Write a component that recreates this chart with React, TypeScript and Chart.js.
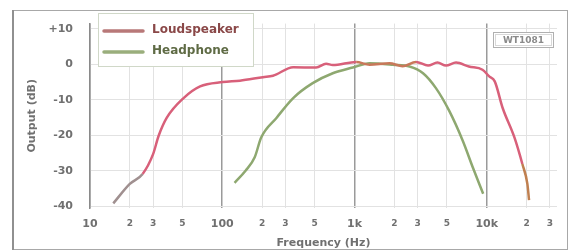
import React, { useEffect, useRef } from "react";
import { Chart, registerables } from "chart.js";

Chart.register(...registerables);

const speakerFreq = [15, 20, 25, 30, 33, 38, 51, 68, 101, 136, 203, 242, 344, 513, 610, 685, 1030, 1300, 1840, 2310, 2920, 3600, 4240, 4920, 5860, 7330, 9290, 10440, 11500, 13200, 16200, 18600, 20300, 20900];
const speakerDb = [-39.2, -33.7, -30.9, -25.3, -20.2, -15.1, -9.5, -6.2, -5.0, -4.6, -3.6, -3.2, -0.8, -0.9, 0.2, -0.2, 0.7, -0.1, 0.3, -0.5, 0.7, -0.3, 0.5, -0.3, 0.5, -0.6, -1.5, -3.4, -4.8, -12.3, -20.6, -28.1, -33.7, -38.3];

const phoneFreq = [124, 150, 176, 197, 257, 344, 483, 685, 972, 1300, 1950, 2610, 3300, 4130, 5220, 6600, 7840, 9400];
const phoneDb = [-33.4, -30.0, -26.2, -20.6, -15.1, -9.5, -5.3, -2.5, -0.9, 0.3, -0.1, -0.6, -2.5, -6.7, -13.2, -21.6, -29.0, -36.5];

const xTickValues = [10, 20, 30, 50, 100, 200, 300, 500, 1000, 2000, 3000, 5000, 10000, 20000, 30000];
const xTickLabels = ["10", "2", "3", "5", "100", "2", "3", "5", "1k", "2", "3", "5", "10k", "2", "3"];
const yTickValues = [-40, -30, -20, -10, 0, 10];
const yTickLabels = ["-40", "-30", "-20", "-10", "0", "+10"];

const seriesNames = ["Loudspeaker", "Headphone"];
const FONT = "'DejaVu Sans', sans-serif";

const framePlugin = {
  id: "frame",
  beforeDraw(chart: any) {
    const c = chart.ctx;
    c.save();
    c.fillStyle = "#ffffff";
    c.fillRect(0, 0, chart.width, chart.height);
    c.strokeStyle = "#a8a8a8";
    c.lineWidth = 1;
    c.strokeRect(12.5, 10.5, 555, 239);
    c.strokeStyle = "#909090";
    c.lineWidth = 2;
    c.beginPath();
    c.moveTo(13, 10);
    c.lineTo(13, 250);
    c.stroke();
    c.restore();
  },
  afterDraw(chart: any) {
    const c = chart.ctx;
    c.save();
    c.fillStyle = "#ffffff";
    c.fillRect(98, 13, 155, 53);
    c.strokeStyle = "#d0d8c8";
    c.lineWidth = 1;
    c.strokeRect(98.5, 13.5, 155, 53);
    const legendColors = ["#b87878", "#9aae7c"];
    const textColors = ["#8a4848", "#5f6b45"];
    const ys = [30, 51];
    chart.data.datasets.forEach((ds: any, i: number) => {
      c.strokeStyle = legendColors[i];
      c.lineWidth = 3.5;
      c.lineCap = "round";
      c.beginPath();
      c.moveTo(104, ys[i] + 1);
      c.lineTo(143, ys[i] + 1);
      c.stroke();
      c.fillStyle = textColors[i];
      c.font = "bold 12px " + FONT;
      c.textBaseline = "middle";
      c.textAlign = "left";
      c.fillText(ds.label, 152, ys[i]);
    });
    c.fillStyle = "#ffffff";
    c.fillRect(493, 32, 61, 16);
    c.strokeStyle = "#b0b0b0";
    c.lineWidth = 1;
    c.strokeRect(493.5, 32.5, 60, 15);
    c.strokeStyle = "#d8d8d8";
    c.strokeRect(495.5, 34.5, 56, 11);
    c.fillStyle = "#8a8a8a";
    c.font = "bold 9px " + FONT;
    c.textAlign = "center";
    c.textBaseline = "middle";
    c.fillText("WT1081", 523.5, 40.5);
    c.restore();
  },
};

export default function App() {
  const ref = useRef<HTMLCanvasElement | null>(null);
  useEffect(() => {
    if (!ref.current) return;
    const chart = new Chart(ref.current, {
      type: "line",
      data: {
        datasets: [
          {
            label: seriesNames[0],
            data: speakerFreq.map((f, i) => ({ x: f, y: speakerDb[i] })),
            borderColor: "#d8607a",
            borderWidth: 2.5,
            pointRadius: 0,
            cubicInterpolationMode: "monotone",
            segment: {
              borderColor: (ctx: any) => {
                const x = ctx.p0.parsed.x;
                if (x >= 18000) return "#c08050";
                if (x >= 1000 && x < 2600) return "#c8785a";
                if (x < 22) return "#a09090";
                return "#d8607a";
              },
            },
          },
          {
            label: seriesNames[1],
            data: phoneFreq.map((f, i) => ({ x: f, y: phoneDb[i] })),
            borderColor: "#8ea870",
            borderWidth: 2.5,
            pointRadius: 0,
            cubicInterpolationMode: "monotone",
          },
        ],
      },
      options: {
        animation: false,
        responsive: false,
        layout: { padding: { left: 0, top: 22, right: 13, bottom: 0 } },
        plugins: { legend: { display: false }, tooltip: { enabled: false } },
        scales: {
          x: {
            type: "logarithmic",
            min: 10,
            max: 34000,
            afterFit: (s: any) => {
              s.height = 43;
            },
            afterBuildTicks: (s: any) => {
              s.ticks = xTickValues.map((v) => ({ value: v }));
            },
            ticks: {
              autoSkip: false,
              maxRotation: 0,
              padding: 10,
              color: "#707070",
              font: (ctx: any) => {
                const lbl = xTickLabels[ctx.index] || "";
                return lbl.length > 1 ? { family: FONT, size: 11, weight: "bold" } : { family: FONT, size: 9, weight: "bold" };
              },
              callback: (_v: any, i: number) => xTickLabels[i],
            },
            grid: {
              drawTicks: false,
              color: (ctx: any) => {
                const v = ctx.tick && ctx.tick.value;
                return [10, 100, 1000, 10000].includes(v) ? "#9a9a9a" : "#e2e2e2";
              },
              lineWidth: (ctx: any) => {
                const v = ctx.tick && ctx.tick.value;
                return [10, 100, 1000, 10000].includes(v) ? 1.5 : 1;
              },
            },
            border: { display: false },
            title: {
              display: true,
              text: "Frequency (Hz)",
              color: "#707070",
              font: { family: FONT, size: 11, weight: "bold" },
              padding: { top: 0, bottom: 1 },
            },
          },
          y: {
            type: "linear",
            min: -40.5,
            max: 11.5,
            afterFit: (s: any) => {
              s.width = 90;
            },
            afterBuildTicks: (s: any) => {
              s.ticks = yTickValues.map((v) => ({ value: v }));
            },
            ticks: {
              padding: 17,
              color: "#707070",
              font: { family: FONT, size: 11, weight: "bold" },
              callback: (v: any) => {
                const i = yTickValues.indexOf(Number(v));
                return i >= 0 ? yTickLabels[i] : "";
              },
            },
            grid: { drawTicks: false, color: "#e2e2e2" },
            border: { display: true, color: "#8a8a8a", width: 1.5 },
            title: {
              display: true,
              text: "Output (dB)",
              color: "#707070",
              font: { family: FONT, size: 11, weight: "bold" },
              padding: { top: 26, bottom: 0 },
            },
          },
        },
      },
      plugins: [framePlugin],
    } as any);
    return () => chart.destroy();
  }, []);
  return (
    <div style={{ position: "absolute", left: 0, top: 0, width: 570, height: 251 }}>
      <canvas ref={ref} width={570} height={251} />
    </div>
  );
}
